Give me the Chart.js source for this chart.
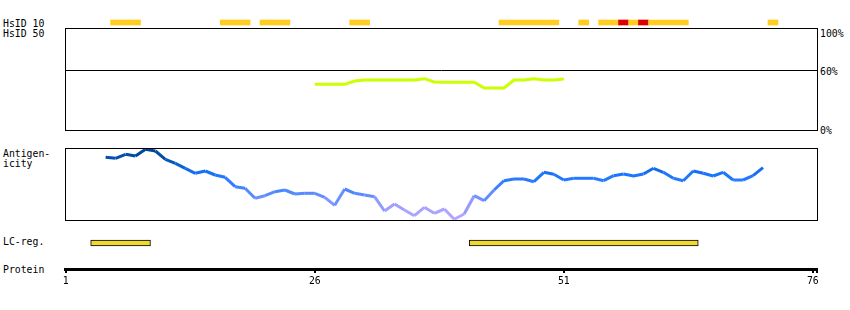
<!DOCTYPE html>
<html>
<head>
<meta charset="utf-8">
<script src="https://cdn.jsdelivr.net/npm/chart.js@4.4.0/dist/chart.umd.min.js"></script>
<style>
body { margin: 0; background: #fff; width: 850px; height: 310px; position: relative; overflow: hidden;
       font-family: "DejaVu Sans Mono", monospace; font-size: 9.8px; line-height: 10px; color: #000; }
.lbl { position: absolute; white-space: nowrap; }
canvas { position: absolute; }
</style>
</head>
<body>
<div class="lbl" style="left:3px;top:19px">HsID 10</div>
<div class="lbl" style="left:3px;top:29px">HsID 50</div>
<div class="lbl" style="left:820px;top:29px">100%</div>
<div class="lbl" style="left:820px;top:67px">60%</div>
<div class="lbl" style="left:820px;top:126px">0%</div>
<div class="lbl" style="left:3px;top:149px">Antigen-<br>icity</div>
<div class="lbl" style="left:3px;top:237px">LC-reg.</div>
<div class="lbl" style="left:3px;top:265px">Protein</div>

<canvas id="hs10" width="753" height="9" style="left:65px;top:18px"></canvas>
<canvas id="hs50" width="753" height="103" style="left:65px;top:28px"></canvas>
<canvas id="antig" width="753" height="73" style="left:65px;top:148px"></canvas>
<canvas id="lcreg" width="753" height="10" style="left:65px;top:238px"></canvas>
<canvas id="protein" width="775" height="40" style="left:55px;top:255px"></canvas>

<script>
// HsID 10 hits, as first/last residue of each stretch; strong = red
const hsid10First  = [6, 17, 21, 30, 45, 53, 55, 57, 58, 59, 60, 72];
const hsid10Last   = [8, 19, 23, 31, 50, 53, 56, 57, 58, 59, 63, 72];
const hsid10Strong = [0, 0, 0, 0, 0, 0, 0, 1, 0, 1, 0, 0];

// HsID 50 identity (%), residues 26..51
const hsid50Residues = [26, 27, 28, 29, 30, 31, 32, 33, 34, 35, 36, 37, 38,
                        39, 40, 41, 42, 43, 44, 45, 46, 47, 48, 49, 50, 51];
const hsid50Values = [46.2, 46.2, 46.2, 46.2, 49.5, 50.5, 50.5, 50.5, 50.5, 50.5, 50.5, 51.8, 48.5,
                      48.3, 48.3, 48.3, 48.3, 42.5, 42.5, 42.5, 50.5, 50.5, 51.8, 50.5, 50.5, 51.5];

// antigenicity, residues 5..71
const antigFirst = 5;
const antigValues = [62.7, 61.7, 65.7, 64, 70.7, 69, 60.7, 56.7, 51.7, 46.7,
                     49, 45, 42.7, 33.3, 31.7, 21.7, 24.3, 28.3, 30, 26,
                     26.7, 26.7, 22.7, 14.7, 31, 26.7, 25, 23.3, 9, 16,
                     10, 4.3, 12.7, 6.7, 11, 0.7, 6, 24.3, 19.3, 30,
                     39.3, 41, 41, 38.3, 47.7, 45.7, 40, 41.7, 41.7, 41.7,
                     39.3, 44.3, 46, 44, 46, 51.7, 47.7, 41.7, 39.3, 49,
                     46.7, 44, 47.7, 40, 40, 44.3, 52.3];

// low complexity regions
const lcFirst = [4, 42];
const lcLast  = [9, 64];

// protein axis
const proteinTicks  = [1, 26, 51, 76, 76.4];
const proteinLabels = ['1', '26', '51', '76', ''];

const PX_PER_RES = 9.96;
const XMIN = 1 - 0.8 / PX_PER_RES;   // residue 1 sits 0.8px into the panel
function xmax(w) { return XMIN + w / PX_PER_RES; }

const frame = {
  id: 'frame',
  afterDraw(chart) {
    const ctx = chart.ctx, w = chart.width, h = chart.height;
    ctx.save();
    ctx.strokeStyle = '#000';
    ctx.lineWidth = 1;
    ctx.strokeRect(0.5, 0.5, w - 1, h - 1);
    ctx.restore();
  }
};

function baseOptions(w, ymin, ymax) {
  return {
    responsive: false,
    animation: false,
    events: [],
    layout: { padding: 0 },
    plugins: { legend: { display: false }, tooltip: { enabled: false } },
    scales: {
      x: { type: 'linear', min: XMIN, max: xmax(w), display: false },
      y: { type: 'linear', min: ymin, max: ymax, display: false }
    }
  };
}

// HsID 10 track
const hs10Opts = baseOptions(753, 0, 1);
hs10Opts.indexAxis = 'y';
hs10Opts.scales = {
  x: { type: 'linear', min: XMIN, max: xmax(753), display: false },
  y: { type: 'linear', min: 0, max: 1, display: false }
};
new Chart(document.getElementById('hs10'), {
  type: 'bar',
  data: { datasets: [{
    data: hsid10First.map((f, i) => ({ x: [f - 0.5, hsid10Last[i] + 0.5], y: 0.5 })),
    backgroundColor: hsid10Strong.map(s => s ? '#dd0000' : '#ffcc1f'),
    barThickness: 5,
    borderWidth: 0
  }] },
  options: hs10Opts
});

// HsID 50 box
const hs50Opts = baseOptions(753, -0.5, 102.5);
new Chart(document.getElementById('hs50'), {
  type: 'line',
  data: { datasets: [
    { data: [{ x: XMIN, y: 60 }, { x: xmax(753), y: 60 }],
      borderColor: '#000', borderWidth: 1, pointRadius: 0 },
    { data: hsid50Residues.map((r, i) => ({ x: r, y: hsid50Values[i] })),
      borderColor: '#ccff00', borderWidth: 3, pointRadius: 0, tension: 0 }
  ] },
  options: hs50Opts,
  plugins: [frame]
});

// antigenicity box
const ramp = [[0, [185, 170, 255]], [12, [165, 160, 255]], [28, [80, 136, 255]],
              [45, [26, 117, 255]], [60, [0, 85, 180]], [72, [0, 64, 140]]];
function rampColor(v) {
  for (let i = 1; i < ramp.length; i++) {
    if (v <= ramp[i][0] || i === ramp.length - 1) {
      const [a, ca] = ramp[i - 1], [b, cb] = ramp[i];
      const t = Math.max(0, Math.min(1, (v - a) / (b - a)));
      const c = ca.map((k, j) => Math.round(k + (cb[j] - k) * t));
      return `rgb(${c[0]},${c[1]},${c[2]})`;
    }
  }
}
const antigOpts = baseOptions(753, -1, 72);
new Chart(document.getElementById('antig'), {
  type: 'line',
  data: { datasets: [{
    data: antigValues.map((v, i) => ({ x: antigFirst + i, y: v })),
    borderWidth: 3,
    pointRadius: 0,
    tension: 0,
    segment: {
      borderColor: ctx => rampColor((ctx.p0.parsed.y + ctx.p1.parsed.y) / 2)
    }
  }] },
  options: antigOpts,
  plugins: [frame]
});

// low complexity regions
const lcOpts = baseOptions(753, 0, 1);
lcOpts.indexAxis = 'y';
new Chart(document.getElementById('lcreg'), {
  type: 'bar',
  data: { datasets: [{
    data: lcFirst.map((f, i) => ({ x: [f - 0.5, lcLast[i] + 0.5], y: 0.5 })),
    backgroundColor: '#f0d830',
    borderColor: '#000',
    borderWidth: 1,
    borderSkipped: false,
    barThickness: 6
  }] },
  options: lcOpts
});

// protein axis
new Chart(document.getElementById('protein'), {
  type: 'line',
  data: { datasets: [] },
  options: {
    responsive: false,
    animation: false,
    events: [],
    layout: { padding: { left: 10, right: 13, top: 0, bottom: 0 } },
    plugins: { legend: { display: false }, tooltip: { enabled: false } },
    scales: {
      x: {
        type: 'linear', min: XMIN, max: xmax(752), position: 'bottom',
        afterFit(s) { s.height = 26; },
        afterBuildTicks(s) { s.ticks = proteinTicks.map(v => ({ value: v })); },
        border: { display: true, color: '#000', width: 3 },
        grid: { drawOnChartArea: false, drawTicks: true, tickLength: 4, tickWidth: 2, tickColor: '#000', lineWidth: 2, color: '#000' },
        ticks: {
          autoSkip: false, maxRotation: 0, padding: 3, color: '#000',
          font: { family: 'DejaVu Sans Mono', size: 9.8 },
          callback: (v, i) => proteinLabels[i]
        }
      },
      y: { display: false, min: 0, max: 1 }
    }
  }
});
</script>
</body>
</html>
